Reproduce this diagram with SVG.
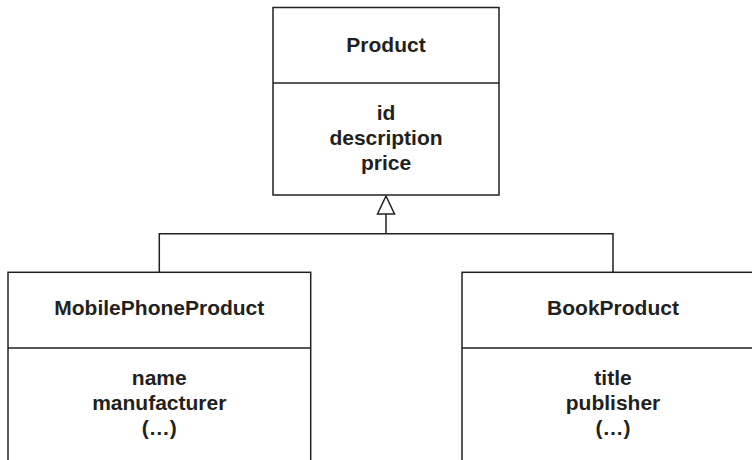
<svg xmlns="http://www.w3.org/2000/svg" width="752" height="460" viewBox="0 0 752 460">
<defs>
<style>
.box{fill:#fff;stroke:#231f20;stroke-width:1.5}
.ln{fill:none;stroke:#231f20;stroke-width:1.5}
.t{font-family:"Liberation Sans",Arial,sans-serif;font-weight:bold;font-size:21px;fill:#231f20;text-anchor:middle}
</style>
</defs>
<rect width="752" height="460" fill="#fff"/>
<g id="connectors">
<path class="ln" d="M386,214 V233.7 M159.3,272.3 V233.7 H613 V272.3"/>
<polygon class="ln" points="386,196 377.5,214 394.5,214" fill="#fff"/>
</g>
<g id="product">
<rect class="box" x="273" y="7.5" width="226" height="187.5"/>
<line class="ln" x1="273" y1="83" x2="499" y2="83"/>
<text class="t" x="386" y="52">Product</text>
<text class="t" x="386" y="120">id</text>
<text class="t" x="386" y="145">description</text>
<text class="t" x="386" y="170">price</text>
</g>
<g id="mobile">
<rect class="box" x="8" y="272.3" width="302.7" height="200"/>
<line class="ln" x1="8" y1="348" x2="310.7" y2="348"/>
<text class="t" x="159.3" y="315">MobilePhoneProduct</text>
<text class="t" x="159.3" y="385">name</text>
<text class="t" x="159.3" y="410">manufacturer</text>
<text class="t" x="159.3" y="435">(…)</text>
</g>
<g id="book">
<rect class="box" x="462" y="272.3" width="302" height="200"/>
<line class="ln" x1="462" y1="348" x2="764" y2="348"/>
<text class="t" x="613" y="315">BookProduct</text>
<text class="t" x="613" y="385">title</text>
<text class="t" x="613" y="410">publisher</text>
<text class="t" x="613" y="435">(…)</text>
</g>
</svg>
